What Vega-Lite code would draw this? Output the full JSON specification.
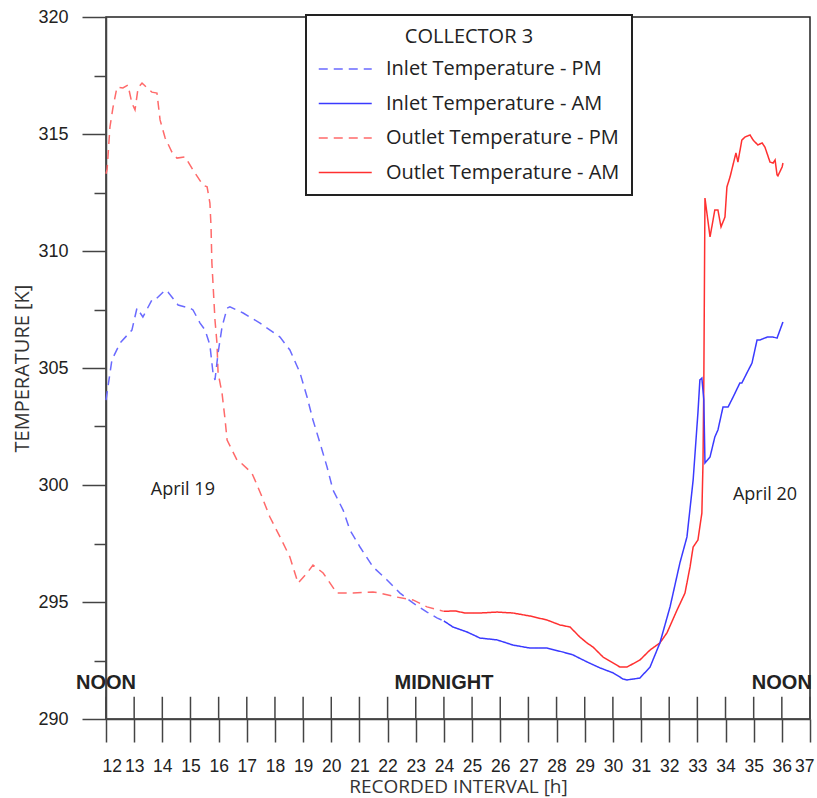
{
  "$schema": "https://vega.github.io/schema/vega-lite/v6.json",
  "autosize": {"type": "none"},
  "width": 704,
  "height": 702,
  "padding": {"left": 106, "top": 17, "right": 7, "bottom": 79},
  "background": "white",
  "config": {
    "view": {"stroke": "#222", "strokeWidth": 1.5},
    "axis": {"labelOverlap": false, "grid": false},
    "legend": {"strokeColor": "#222", "strokeWidth": 2, "fillColor": "white"}
  },
  "datasets": {
    "lines": [
      {"h":12.0,"T":313.3,"s":"Outlet Temperature - PM"},{"h":12.04,"T":313.5,"s":"Outlet Temperature - PM"},{"h":12.14,"T":315.3,"s":"Outlet Temperature - PM"},{"h":12.25,"T":316.15,"s":"Outlet Temperature - PM"},{"h":12.39,"T":317.0,"s":"Outlet Temperature - PM"},{"h":12.6,"T":316.97,"s":"Outlet Temperature - PM"},{"h":12.78,"T":317.09,"s":"Outlet Temperature - PM"},{"h":12.92,"T":316.32,"s":"Outlet Temperature - PM"},{"h":13.03,"T":316.03,"s":"Outlet Temperature - PM"},{"h":13.14,"T":316.97,"s":"Outlet Temperature - PM"},{"h":13.28,"T":317.18,"s":"Outlet Temperature - PM"},{"h":13.46,"T":316.97,"s":"Outlet Temperature - PM"},{"h":13.63,"T":316.79,"s":"Outlet Temperature - PM"},{"h":13.81,"T":316.75,"s":"Outlet Temperature - PM"},{"h":13.92,"T":315.6,"s":"Outlet Temperature - PM"},{"h":14.1,"T":314.83,"s":"Outlet Temperature - PM"},{"h":14.34,"T":314.23,"s":"Outlet Temperature - PM"},{"h":14.52,"T":313.97,"s":"Outlet Temperature - PM"},{"h":14.81,"T":314.02,"s":"Outlet Temperature - PM"},{"h":15.09,"T":313.46,"s":"Outlet Temperature - PM"},{"h":15.44,"T":312.82,"s":"Outlet Temperature - PM"},{"h":15.59,"T":312.74,"s":"Outlet Temperature - PM"},{"h":15.69,"T":312.05,"s":"Outlet Temperature - PM"},{"h":15.73,"T":311.03,"s":"Outlet Temperature - PM"},{"h":15.76,"T":309.5,"s":"Outlet Temperature - PM"},{"h":15.87,"T":307.05,"s":"Outlet Temperature - PM"},{"h":15.94,"T":306.07,"s":"Outlet Temperature - PM"},{"h":15.98,"T":304.79,"s":"Outlet Temperature - PM"},{"h":16.12,"T":303.93,"s":"Outlet Temperature - PM"},{"h":16.23,"T":302.78,"s":"Outlet Temperature - PM"},{"h":16.3,"T":301.92,"s":"Outlet Temperature - PM"},{"h":16.65,"T":301.07,"s":"Outlet Temperature - PM"},{"h":16.76,"T":300.98,"s":"Outlet Temperature - PM"},{"h":17.18,"T":300.51,"s":"Outlet Temperature - PM"},{"h":17.29,"T":300.21,"s":"Outlet Temperature - PM"},{"h":17.54,"T":299.49,"s":"Outlet Temperature - PM"},{"h":17.82,"T":298.63,"s":"Outlet Temperature - PM"},{"h":18.18,"T":297.78,"s":"Outlet Temperature - PM"},{"h":18.53,"T":296.92,"s":"Outlet Temperature - PM"},{"h":18.64,"T":296.5,"s":"Outlet Temperature - PM"},{"h":18.82,"T":295.81,"s":"Outlet Temperature - PM"},{"h":19.14,"T":296.24,"s":"Outlet Temperature - PM"},{"h":19.35,"T":296.58,"s":"Outlet Temperature - PM"},{"h":19.71,"T":296.24,"s":"Outlet Temperature - PM"},{"h":20.2,"T":295.38,"s":"Outlet Temperature - PM"},{"h":20.77,"T":295.38,"s":"Outlet Temperature - PM"},{"h":21.48,"T":295.43,"s":"Outlet Temperature - PM"},{"h":21.73,"T":295.38,"s":"Outlet Temperature - PM"},{"h":22.33,"T":295.21,"s":"Outlet Temperature - PM"},{"h":22.9,"T":295.09,"s":"Outlet Temperature - PM"},{"h":23.4,"T":294.79,"s":"Outlet Temperature - PM"},{"h":24.0,"T":294.6,"s":"Outlet Temperature - PM"},
      {"h":24.0,"T":294.6,"s":"Outlet Temperature - AM"},{"h":24.39,"T":294.62,"s":"Outlet Temperature - AM"},{"h":24.75,"T":294.53,"s":"Outlet Temperature - AM"},{"h":25.28,"T":294.53,"s":"Outlet Temperature - AM"},{"h":25.89,"T":294.57,"s":"Outlet Temperature - AM"},{"h":26.45,"T":294.53,"s":"Outlet Temperature - AM"},{"h":27.06,"T":294.4,"s":"Outlet Temperature - AM"},{"h":27.66,"T":294.23,"s":"Outlet Temperature - AM"},{"h":28.12,"T":294.02,"s":"Outlet Temperature - AM"},{"h":28.48,"T":293.93,"s":"Outlet Temperature - AM"},{"h":28.83,"T":293.5,"s":"Outlet Temperature - AM"},{"h":29.08,"T":293.25,"s":"Outlet Temperature - AM"},{"h":29.29,"T":293.08,"s":"Outlet Temperature - AM"},{"h":29.65,"T":292.65,"s":"Outlet Temperature - AM"},{"h":30.25,"T":292.22,"s":"Outlet Temperature - AM"},{"h":30.5,"T":292.22,"s":"Outlet Temperature - AM"},{"h":30.96,"T":292.52,"s":"Outlet Temperature - AM"},{"h":31.32,"T":292.95,"s":"Outlet Temperature - AM"},{"h":31.67,"T":293.25,"s":"Outlet Temperature - AM"},{"h":31.92,"T":293.68,"s":"Outlet Temperature - AM"},{"h":32.28,"T":294.66,"s":"Outlet Temperature - AM"},{"h":32.56,"T":295.38,"s":"Outlet Temperature - AM"},{"h":32.74,"T":296.5,"s":"Outlet Temperature - AM"},{"h":32.85,"T":297.35,"s":"Outlet Temperature - AM"},{"h":33.02,"T":297.65,"s":"Outlet Temperature - AM"},{"h":33.16,"T":298.8,"s":"Outlet Temperature - AM"},{"h":33.2,"T":300.94,"s":"Outlet Temperature - AM"},{"h":33.23,"T":304.49,"s":"Outlet Temperature - AM"},{"h":33.27,"T":312.26,"s":"Outlet Temperature - AM"},{"h":33.45,"T":310.6,"s":"Outlet Temperature - AM"},{"h":33.62,"T":311.75,"s":"Outlet Temperature - AM"},{"h":33.73,"T":311.75,"s":"Outlet Temperature - AM"},{"h":33.84,"T":311.03,"s":"Outlet Temperature - AM"},{"h":33.98,"T":311.45,"s":"Outlet Temperature - AM"},{"h":34.05,"T":312.74,"s":"Outlet Temperature - AM"},{"h":34.16,"T":313.16,"s":"Outlet Temperature - AM"},{"h":34.37,"T":314.19,"s":"Outlet Temperature - AM"},{"h":34.44,"T":313.8,"s":"Outlet Temperature - AM"},{"h":34.58,"T":314.74,"s":"Outlet Temperature - AM"},{"h":34.69,"T":314.87,"s":"Outlet Temperature - AM"},{"h":34.87,"T":314.96,"s":"Outlet Temperature - AM"},{"h":34.98,"T":314.74,"s":"Outlet Temperature - AM"},{"h":35.15,"T":314.53,"s":"Outlet Temperature - AM"},{"h":35.3,"T":314.62,"s":"Outlet Temperature - AM"},{"h":35.4,"T":314.44,"s":"Outlet Temperature - AM"},{"h":35.58,"T":313.8,"s":"Outlet Temperature - AM"},{"h":35.69,"T":313.76,"s":"Outlet Temperature - AM"},{"h":35.76,"T":313.89,"s":"Outlet Temperature - AM"},{"h":35.83,"T":313.25,"s":"Outlet Temperature - AM"},{"h":35.86,"T":313.21,"s":"Outlet Temperature - AM"},{"h":36.01,"T":313.59,"s":"Outlet Temperature - AM"},{"h":36.04,"T":313.76,"s":"Outlet Temperature - AM"},
      {"h":12.0,"T":303.63,"s":"Inlet Temperature - PM"},{"h":12.21,"T":305.34,"s":"Inlet Temperature - PM"},{"h":12.5,"T":306.07,"s":"Inlet Temperature - PM"},{"h":12.92,"T":306.62,"s":"Inlet Temperature - PM"},{"h":13.1,"T":307.56,"s":"Inlet Temperature - PM"},{"h":13.31,"T":307.18,"s":"Inlet Temperature - PM"},{"h":13.63,"T":307.91,"s":"Inlet Temperature - PM"},{"h":13.74,"T":307.91,"s":"Inlet Temperature - PM"},{"h":14.1,"T":308.33,"s":"Inlet Temperature - PM"},{"h":14.2,"T":308.25,"s":"Inlet Temperature - PM"},{"h":14.56,"T":307.69,"s":"Inlet Temperature - PM"},{"h":14.98,"T":307.56,"s":"Inlet Temperature - PM"},{"h":15.09,"T":307.48,"s":"Inlet Temperature - PM"},{"h":15.34,"T":306.92,"s":"Inlet Temperature - PM"},{"h":15.52,"T":306.62,"s":"Inlet Temperature - PM"},{"h":15.69,"T":305.98,"s":"Inlet Temperature - PM"},{"h":15.8,"T":304.79,"s":"Inlet Temperature - PM"},{"h":15.87,"T":304.49,"s":"Inlet Temperature - PM"},{"h":15.98,"T":305.64,"s":"Inlet Temperature - PM"},{"h":16.12,"T":306.75,"s":"Inlet Temperature - PM"},{"h":16.3,"T":307.56,"s":"Inlet Temperature - PM"},{"h":16.4,"T":307.61,"s":"Inlet Temperature - PM"},{"h":16.87,"T":307.35,"s":"Inlet Temperature - PM"},{"h":17.47,"T":306.92,"s":"Inlet Temperature - PM"},{"h":18.18,"T":306.32,"s":"Inlet Temperature - PM"},{"h":18.53,"T":305.77,"s":"Inlet Temperature - PM"},{"h":18.89,"T":304.79,"s":"Inlet Temperature - PM"},{"h":19.14,"T":303.76,"s":"Inlet Temperature - PM"},{"h":19.35,"T":302.78,"s":"Inlet Temperature - PM"},{"h":19.6,"T":301.79,"s":"Inlet Temperature - PM"},{"h":19.85,"T":300.77,"s":"Inlet Temperature - PM"},{"h":20.06,"T":299.79,"s":"Inlet Temperature - PM"},{"h":20.42,"T":298.93,"s":"Inlet Temperature - PM"},{"h":20.66,"T":298.08,"s":"Inlet Temperature - PM"},{"h":21.02,"T":297.35,"s":"Inlet Temperature - PM"},{"h":21.48,"T":296.5,"s":"Inlet Temperature - PM"},{"h":21.98,"T":295.94,"s":"Inlet Temperature - PM"},{"h":22.44,"T":295.38,"s":"Inlet Temperature - PM"},{"h":22.9,"T":294.96,"s":"Inlet Temperature - PM"},{"h":23.4,"T":294.57,"s":"Inlet Temperature - PM"},{"h":23.75,"T":294.32,"s":"Inlet Temperature - PM"},{"h":24.0,"T":294.19,"s":"Inlet Temperature - PM"},
      {"h":24.0,"T":294.19,"s":"Inlet Temperature - AM"},{"h":24.32,"T":293.93,"s":"Inlet Temperature - AM"},{"h":24.82,"T":293.72,"s":"Inlet Temperature - AM"},{"h":25.28,"T":293.46,"s":"Inlet Temperature - AM"},{"h":25.89,"T":293.38,"s":"Inlet Temperature - AM"},{"h":26.45,"T":293.16,"s":"Inlet Temperature - AM"},{"h":27.06,"T":293.03,"s":"Inlet Temperature - AM"},{"h":27.66,"T":293.03,"s":"Inlet Temperature - AM"},{"h":28.23,"T":292.86,"s":"Inlet Temperature - AM"},{"h":28.58,"T":292.74,"s":"Inlet Temperature - AM"},{"h":29.08,"T":292.44,"s":"Inlet Temperature - AM"},{"h":29.55,"T":292.18,"s":"Inlet Temperature - AM"},{"h":30.01,"T":291.97,"s":"Inlet Temperature - AM"},{"h":30.36,"T":291.71,"s":"Inlet Temperature - AM"},{"h":30.5,"T":291.67,"s":"Inlet Temperature - AM"},{"h":30.96,"T":291.75,"s":"Inlet Temperature - AM"},{"h":31.32,"T":292.22,"s":"Inlet Temperature - AM"},{"h":31.67,"T":293.25,"s":"Inlet Temperature - AM"},{"h":32.03,"T":294.79,"s":"Inlet Temperature - AM"},{"h":32.38,"T":296.67,"s":"Inlet Temperature - AM"},{"h":32.63,"T":297.78,"s":"Inlet Temperature - AM"},{"h":32.85,"T":300.21,"s":"Inlet Temperature - AM"},{"h":33.02,"T":303.08,"s":"Inlet Temperature - AM"},{"h":33.09,"T":304.49,"s":"Inlet Temperature - AM"},{"h":33.16,"T":304.57,"s":"Inlet Temperature - AM"},{"h":33.23,"T":303.63,"s":"Inlet Temperature - AM"},{"h":33.27,"T":300.94,"s":"Inlet Temperature - AM"},{"h":33.45,"T":301.2,"s":"Inlet Temperature - AM"},{"h":33.62,"T":302.05,"s":"Inlet Temperature - AM"},{"h":33.73,"T":302.35,"s":"Inlet Temperature - AM"},{"h":33.91,"T":303.33,"s":"Inlet Temperature - AM"},{"h":34.09,"T":303.33,"s":"Inlet Temperature - AM"},{"h":34.27,"T":303.76,"s":"Inlet Temperature - AM"},{"h":34.51,"T":304.36,"s":"Inlet Temperature - AM"},{"h":34.58,"T":304.36,"s":"Inlet Temperature - AM"},{"h":34.76,"T":304.79,"s":"Inlet Temperature - AM"},{"h":34.94,"T":305.21,"s":"Inlet Temperature - AM"},{"h":35.12,"T":306.2,"s":"Inlet Temperature - AM"},{"h":35.23,"T":306.2,"s":"Inlet Temperature - AM"},{"h":35.48,"T":306.32,"s":"Inlet Temperature - AM"},{"h":35.69,"T":306.32,"s":"Inlet Temperature - AM"},{"h":35.83,"T":306.28,"s":"Inlet Temperature - AM"},{"h":36.04,"T":306.97,"s":"Inlet Temperature - AM"}
    ],
    "hours": [
      {"h":12},{"h":13},{"h":14},{"h":15},{"h":16},{"h":17},{"h":18},{"h":19},{"h":20},{"h":21},{"h":22},{"h":23},{"h":24},{"h":25},{"h":26},{"h":27},{"h":28},{"h":29},{"h":30},{"h":31},{"h":32},{"h":33},{"h":34},{"h":35},{"h":36},{"h":37}
    ],
    "bold": [
      {"h":12,"T":291.54,"label":"NOON"},{"h":24,"T":291.54,"label":"MIDNIGHT"},{"h":36,"T":291.54,"label":"NOON"}
    ],
    "notes": [
      {"h":14.73,"T":299.79,"label":"April 19"},{"h":35.4,"T":299.57,"label":"April 20"}
    ]
  },
  "layer": [
    {
      "data": {"name": "lines"},
      "mark": {"type": "line", "strokeWidth": 1.5},
      "encoding": {
        "x": {
          "field": "h", "type": "quantitative",
          "scale": {"domain": [12, 37], "nice": false, "zero": false},
          "axis": {
            "title": "RECORDED INTERVAL [h]",
            "values": [12,13,14,15,16,17,18,19,20,21,22,23,24,25,26,27,28,29,30,31,32,33,34,35,36,37],
            "tickCount": 40,
            "format": "d", "grid": false,
            "domainColor": "#444", "domainWidth": 1.5,
            "tickColor": "#444", "tickWidth": 1.5, "tickSize": 23,
            "labelFont": "Liberation Sans", "labelFontSize": 17.5, "labelColor": "#222", "labelPadding": 15,
            "labelFlush": true, "labelFlushOffset": 4, "labelOverlap": false,
            "titleFont": "Open Sans", "titleFontSize": 19, "titleFontWeight": "normal", "titleColor": "#333", "titlePadding": 3
          }
        },
        "y": {
          "field": "T", "type": "quantitative",
          "scale": {"domain": [290, 320], "nice": false, "zero": false},
          "axis": {
            "title": "TEMPERATURE [K]",
            "values": [290,292.5,295,297.5,300,302.5,305,307.5,310,312.5,315,317.5,320],
            "tickCount": 40,
            "labelExpr": "datum.value % 5 === 0 ? format(datum.value, 'd') : ''",
            "grid": false,
            "domainColor": "#444", "domainWidth": 1.5,
            "tickColor": "#444", "tickWidth": 1.5,
            "tickSize": {"condition": {"test": "datum.value % 5 === 0", "value": 24}, "value": 12},
            "labelFont": "Liberation Sans", "labelFontSize": 18, "labelColor": "#222", "labelPadding": 14,
            "labelFlush": false, "labelOverlap": false,
            "titleFont": "Open Sans", "titleFontSize": 20, "titleFontWeight": "normal", "titleColor": "#333", "titlePadding": 5
          }
        },
        "color": {
          "field": "s", "type": "nominal",
          "scale": {
            "domain": ["Inlet Temperature - PM", "Inlet Temperature - AM", "Outlet Temperature - PM", "Outlet Temperature - AM"],
            "range": ["#6a6aff", "#3a3aff", "#ff6a6a", "#ff3030"]
          },
          "legend": {
            "title": "COLLECTOR 3",
            "orient": "none", "legendX": 200, "legendY": -2,
            "padding": 12,
            "titleAnchor": "middle", "titleFont": "Open Sans", "titleFontSize": 20, "titleFontWeight": "normal", "titleColor": "#222", "titlePadding": 8,
            "labelFont": "Open Sans", "labelFontSize": 20, "labelColor": "#222", "labelOffset": 40, "labelLimit": 400,
            "symbolType": "M-1,0H3", "symbolSize": 702, "symbolStrokeWidth": 1.5,
            "rowPadding": 10.5
          }
        },
        "strokeDash": {
          "field": "s", "type": "nominal",
          "scale": {
            "domain": ["Inlet Temperature - PM", "Inlet Temperature - AM", "Outlet Temperature - PM", "Outlet Temperature - AM"],
            "range": [[9, 6], [1, 0], [9, 6], [1, 0]]
          }
        },
        "order": {"field": "h", "type": "quantitative"}
      }
    },
    {
      "data": {"name": "hours"},
      "mark": {"type": "rule", "stroke": "#444", "strokeWidth": 1.5},
      "encoding": {
        "x": {"field": "h", "type": "quantitative"},
        "y": {"datum": 290},
        "y2": {"datum": 290.95}
      }
    },
    {
      "data": {"name": "bold"},
      "mark": {"type": "text", "font": "Liberation Sans", "fontSize": 20, "fontWeight": "bold", "color": "#222", "align": "center", "baseline": "middle"},
      "encoding": {
        "x": {"field": "h", "type": "quantitative"},
        "y": {"field": "T", "type": "quantitative"},
        "text": {"field": "label"}
      }
    },
    {
      "data": {"name": "notes"},
      "mark": {"type": "text", "font": "Open Sans", "fontSize": 18, "color": "#222", "align": "center", "baseline": "middle"},
      "encoding": {
        "x": {"field": "h", "type": "quantitative"},
        "y": {"field": "T", "type": "quantitative"},
        "text": {"field": "label"}
      }
    }
  ]
}
